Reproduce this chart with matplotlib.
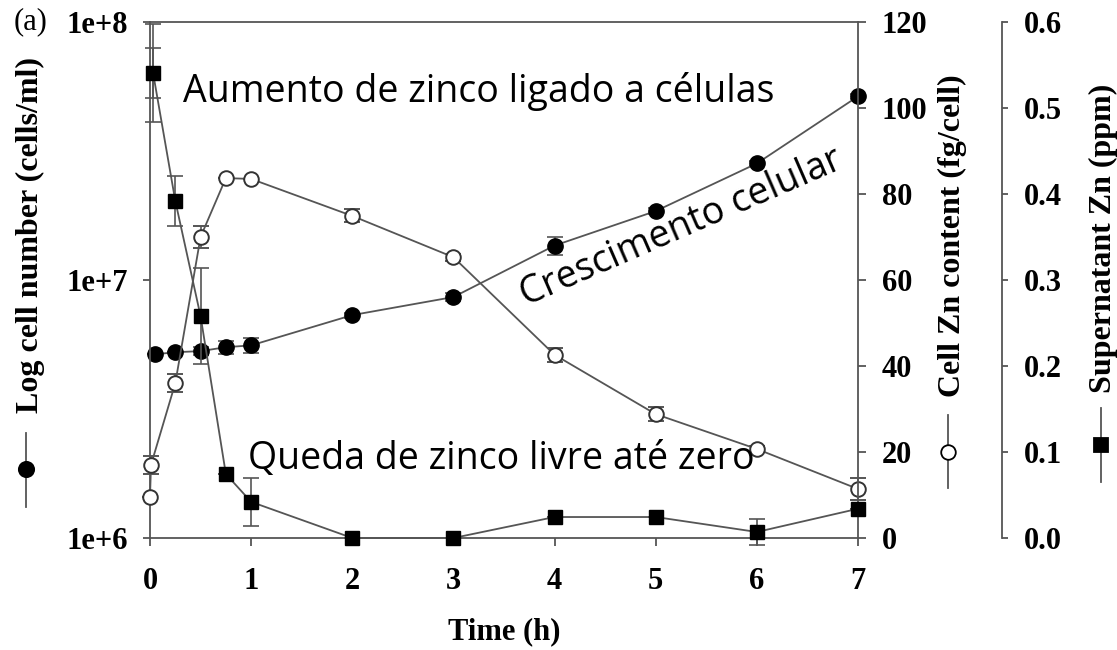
import matplotlib
matplotlib.use("Agg")
import matplotlib.pyplot as plt
from matplotlib.lines import Line2D
import numpy as np

# ---------------- data ----------------
t_cells = [0.05, 0.25, 0.5, 0.75, 1, 2, 3, 4, 5, 6, 7]
cells = [5.15e6, 5.25e6, 5.3e6, 5.49e6, 5.58e6, 7.31e6, 8.59e6, 1.36e7, 1.85e7, 2.83e7, 5.15e7]
cells_err_dec = [0, 0, 0.015, 0.025, 0.03, 0.01, 0.015, 0.035, 0.01, 0.01, 0.01]

t_cellzn = [0, 0.01, 0.25, 0.5, 0.75, 1, 2, 3, 4, 5, 6, 7]
cellzn = [9.5, 17.0, 36.0, 70.0, 83.7, 83.5, 74.9, 65.3, 42.6, 28.8, 20.7, 11.4]
cellzn_err = [0, 2.1, 2.1, 2.6, 0, 0, 1.5, 0.8, 1.6, 1.6, 0.6, 2.5]

t_sup = [0.03, 0.25, 0.5, 0.75, 1, 2, 3, 4, 5, 6, 7]
sup = [0.541, 0.392, 0.258, 0.0744, 0.042, 0.0, 0.0, 0.0244, 0.0244, 0.007, 0.034]
sup_err = [0.029, 0.029, 0.056, 0, 0.028, 0, 0, 0, 0, 0.015, 0]
sup_err_first_outer = [0.057]

x_ticks = [0, 1, 2, 3, 4, 5, 6, 7]
left_ticks = [1e6, 1e7, 1e8]
left_ticklabels = ["1e+6", "1e+7", "1e+8"]
zn_ticks = [0, 20, 40, 60, 80, 100, 120]
sup_ticks = [0.0, 0.1, 0.2, 0.3, 0.4, 0.5, 0.6]

# ---------------- style ----------------
plt.rcParams['font.family'] = ['Liberation Serif', 'DejaVu Serif']
plt.rcParams['font.weight'] = 'bold'
SER = ['Liberation Serif', 'DejaVu Serif']
SANS = ['Open Sans', 'DejaVu Sans']
LC = '#555555'
TICKFS = 22
LABFS = 23
ANNFS = 27

W, H = 1117, 650
fig = plt.figure(figsize=(W / 100, H / 100), dpi=100)
fig.patch.set_facecolor('white')

def fx(px):
    return px / W

def fy(py):
    return 1 - py / H

ax = fig.add_axes([fx(150), fy(538), fx(858) - fx(150), fy(22) - fy(538)])
ax2 = ax.twinx()
ax3 = ax.twinx()

for a in (ax, ax2, ax3):
    for s in a.spines.values():
        s.set_color(LC)
        s.set_linewidth(1.3)
    a.patch.set_visible(False)

# main axis
ax.set_xlim(0, 7)
ax.set_yscale('log')
ax.set_ylim(1e6, 1e8)
ax.set_xticks(x_ticks)
ax.set_xticklabels([str(v) for v in x_ticks])
ax.set_yticks(left_ticks)
ax.set_yticklabels(left_ticklabels)
ax.yaxis.set_minor_locator(matplotlib.ticker.NullLocator())
ax.tick_params(axis='x', direction='out', length=6, width=1.3, color=LC,
               labelsize=TICKFS, pad=15)
ax.tick_params(axis='y', direction='out', length=5, width=1.3, color=LC,
               labelsize=TICKFS, pad=11)
ax.spines['right'].set_visible(False)

# second axis (cell Zn content)
ax2.set_ylim(0, 120)
ax2.set_yticks(zn_ticks)
ax2.set_yticklabels([str(v) for v in zn_ticks])
ax2.tick_params(axis='y', direction='out', length=6, width=1.3, color=LC,
                labelsize=TICKFS, pad=11)
for k in ('left', 'top', 'bottom'):
    ax2.spines[k].set_visible(False)

# third axis (supernatant Zn)
ax3.set_ylim(0, 0.6)
ax3.set_yticks(sup_ticks)
ax3.set_yticklabels(["%.1f" % v for v in sup_ticks])
ax3.spines['right'].set_position(('axes', (1002 - 150) / 708))
ax3.tick_params(axis='y', direction='out', length=4, width=1.3, color=LC,
                labelsize=TICKFS, pad=12)
for k in ('left', 'top', 'bottom'):
    ax3.spines[k].set_visible(False)

for a in (ax, ax2, ax3):
    for lab in a.get_xticklabels() + a.get_yticklabels():
        lab.set_fontweight('bold')
        lab.set_family(SER)

# ---------------- series ----------------
cells_a = np.array(cells)
ed = np.array(cells_err_dec)
cells_yerr = [cells_a - cells_a / 10 ** ed, cells_a * 10 ** ed - cells_a]

common = dict(color=LC, lw=1.3, ecolor=LC, elinewidth=1.2, capsize=6, capthick=1.2)

e1 = ax3.errorbar(t_sup, sup, yerr=sup_err, marker='s', ms=9.5, mfc='black',
                  mec='black', **common)
e1b = ax3.errorbar(t_sup[:1], sup[:1], yerr=sup_err_first_outer, fmt='none',
                   ecolor=LC, elinewidth=1.2, capsize=6, capthick=1.2)
e2 = ax2.errorbar(t_cellzn, cellzn, yerr=cellzn_err, marker='o', ms=10.5,
                  mfc='white', mec='#333333', mew=1.4, **common)
e3 = ax.errorbar(t_cells, cells, yerr=cells_yerr, marker='o', ms=11,
                 mfc='black', mec='black', **common)

for cont in (e1, e1b, e2, e3):
    for child in cont.get_children():
        child.set_clip_on(False)

# ---------------- labels ----------------
fig.text(fx(30), fy(235), "Log cell number (cells/ml)", rotation=90,
         ha='center', va='center', fontsize=LABFS, fontweight='bold', family=SER)
fig.text(fx(952), fy(236), "Cell Zn content (fg/cell)", rotation=90,
         ha='center', va='center', fontsize=LABFS, fontweight='bold', family=SER)
fig.text(fx(1103), fy(238), "Supernatant Zn (ppm)", rotation=90,
         ha='center', va='center', fontsize=LABFS, fontweight='bold', family=SER)
fig.text(fx(504), fy(632), "Time (h)", ha='center', va='center',
         fontsize=LABFS - 1, fontweight='bold', family=SER)
fig.text(fx(14), fy(22), "(a)", ha='left', va='center', fontsize=TICKFS,
         fontweight='normal', family=SER)

# legend glyphs next to the axis titles
def glyph(xp, y0, y1, yc, marker, ms, mfc):
    fig.add_artist(Line2D([fx(xp), fx(xp)], [fy(y0), fy(y1)], color=LC, lw=1.3,
                          transform=fig.transFigure))
    fig.add_artist(Line2D([fx(xp)], [fy(yc)], marker=marker, ms=ms, mfc=mfc,
                          mec='black', mew=1.3, lw=0, transform=fig.transFigure))

glyph(26, 433, 507, 469, 'o', 11, 'black')
glyph(948, 415, 488, 452, 'o', 10.5, 'white')
glyph(1101, 408, 482, 445, 's', 9.5, 'black')

# ---------------- annotations ----------------
fig.text(fx(183), fy(102), "Aumento de zinco ligado a células", ha='left',
         va='baseline', fontsize=ANNFS, fontweight='normal', family=SANS)
fig.text(fx(248), fy(469), "Queda de zinco livre até zero", ha='left',
         va='baseline', fontsize=ANNFS, fontweight='normal', family=SANS)
fig.text(fx(526), fy(306), "Crescimento celular", ha='left', va='baseline',
         rotation=23.5, rotation_mode='anchor', fontsize=ANNFS,
         fontweight='normal', family=SANS)

fig.savefig("out.png", dpi=100, facecolor='white')
